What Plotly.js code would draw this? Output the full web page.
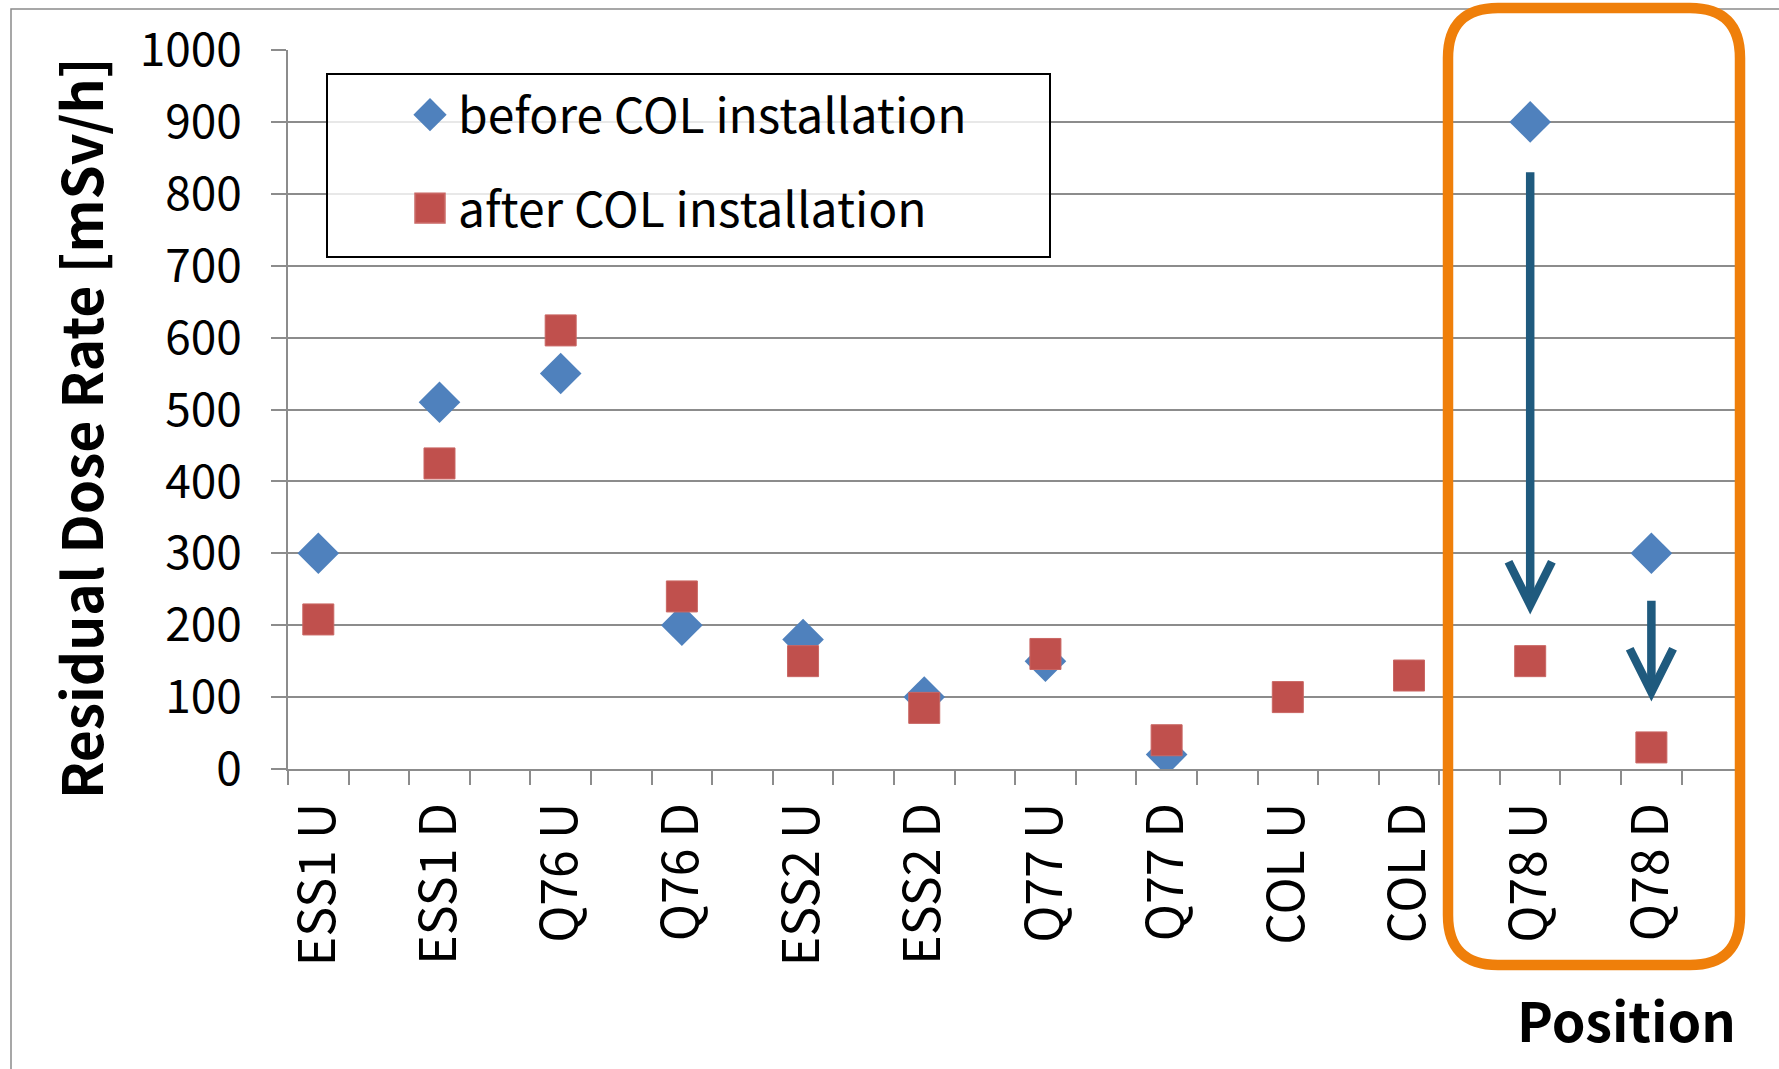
<!DOCTYPE html>
<html><head><meta charset="utf-8">
<script src="https://cdn.plot.ly/plotly-3.0.1.min.js"></script>
<style>html,body{margin:0;padding:0;background:#fff;} #chart{width:1779px;height:1069px;}</style>
</head><body><div id="chart"></div>
<script>
// ---- data ----
const categories = ["ESS1 U","ESS1 D","Q76 U","Q76 D","ESS2 U","ESS2 D","Q77 U","Q77 D","COL U","COL D","Q78 U","Q78 D"];
const beforeCOL = [300, 510, 550, 200, 180, 100, 150, 20, null, null, 900, 300];
const afterCOL  = [208, 425, 610, 240, 150, 85, 160, 40, 100, 130, 150, 30];
const seriesNames = ["before COL installation", "after COL installation"];
const yTickVals = [0,100,200,300,400,500,600,700,800,900,1000];
const arrowCategories = ["Q78 U", "Q78 D"];
const arrowFrom = [832, 236];
const arrowTo = [215, 94];
const yTitle = "Residual Dose Rate [mSv/h]";
const xTitle = "Position";

// ---- layout geometry ----
const W = 1779, H = 1069;
const M = {l: 288, r: 44, t: 50, b: 300};
const PW = W - M.l - M.r, PH = H - M.t - M.b;
const px2x = p => (p - M.l) / PW;
const py2y = p => (H - M.b - p) / PH;
const FONT = "'Noto Sans CJK JP', 'Noto Sans', sans-serif";
const GRID = '#8c8c8c';
const BLUE = '#4F81BD', RED = '#C0504D', ORANGE = '#EF7F0A', ARROW = '#1F5A7E';

const xPos = categories.map((c, i) => i + 1);
const minorTicks = [];
xPos.forEach(v => { minorTicks.push(v - 0.25); minorTicks.push(v + 0.25); });
const uniqMinor = [...new Set(minorTicks.map(v => +v.toFixed(2)))];

const traces = [
  {x: xPos, y: beforeCOL, name: seriesNames[0], type: 'scatter', mode: 'markers', legendgroup: 'a',
   marker: {symbol: 'diamond', size: 32, color: BLUE}},
  {x: xPos, y: afterCOL, name: seriesNames[1], type: 'scatter', mode: 'markers', legendgroup: 'b',
   marker: {symbol: 'square', size: 31, color: RED, line: {width: 1, color: '#C96663'}}}
];

// rounded orange frame (paper coords)
const oL = 1448, oR = 1740, oT = 8, oB = 965, rad = 50;
const X = px2x, Y = py2y;
const orangePath =
  `M ${X(oL+rad)},${Y(oT)} H ${X(oR-rad)} Q ${X(oR)},${Y(oT)} ${X(oR)},${Y(oT+rad)} ` +
  `V ${Y(oB-rad)} Q ${X(oR)},${Y(oB)} ${X(oR-rad)},${Y(oB)} H ${X(oL+rad)} ` +
  `Q ${X(oL)},${Y(oB)} ${X(oL)},${Y(oB-rad)} V ${Y(oT+rad)} Q ${X(oL)},${Y(oT)} ${X(oL+rad)},${Y(oT)} Z`;

const shapes = [
  {type: 'rect', xref: 'paper', yref: 'paper', x0: X(11), x1: X(1850), y0: Y(9), y1: Y(1150),
   line: {color: '#8a8a8a', width: 1.5}, layer: 'above'},
  {type: 'rect', xref: 'paper', yref: 'paper', x0: X(327), x1: X(1050), y0: Y(74), y1: Y(257),
   line: {color: '#000', width: 2}, fillcolor: 'rgba(255,255,255,0.8)', layer: 'above'},
  {type: 'path', xref: 'paper', yref: 'paper', path: orangePath,
   line: {color: ORANGE, width: 10.5}, layer: 'above'}
];

const annotations = [
  {xref: 'paper', yref: 'paper', x: X(1738), y: Y(1018), xanchor: 'right', yanchor: 'middle',
   text: xTitle, showarrow: false, font: {family: FONT, size: 54, color: '#000', weight: 'bold'}},
  {xref: 'paper', yref: 'paper', x: X(79), y: Y(428), xanchor: 'center', yanchor: 'middle', textangle: -90,
   text: yTitle, showarrow: false, font: {family: FONT, size: 55, color: '#000', weight: 'bold'}}
];
arrowCategories.forEach((c, i) => {
  const xv = categories.indexOf(c) + 1;
  annotations.push({xref: 'x', yref: 'y', axref: 'x', ayref: 'y', x: xv, y: arrowTo[i], ax: xv, ay: arrowFrom[i],
    text: '', showarrow: true, arrowhead: 5, arrowsize: 1, arrowwidth: 8.5, arrowcolor: ARROW, standoff: 0});
});

const layout = {
  width: W, height: H, margin: M,
  paper_bgcolor: '#fff', plot_bgcolor: '#fff',
  font: {family: FONT, color: '#000'},
  showlegend: true,
  legend: {x: X(327), y: Y(77), xanchor: 'left', yanchor: 'top', bgcolor: 'rgba(0,0,0,0)', borderwidth: 0,
    font: {family: FONT, size: 48, color: '#000'}, indentation: 75, itemwidth: 46, tracegroupgap: 28, traceorder: 'grouped'},
  xaxis: {range: [0.75, 12.69], tickmode: 'array', tickvals: xPos, ticktext: categories, tickangle: -90,
    ticks: '', showgrid: false, zeroline: false, showline: true, linecolor: GRID, linewidth: 2,
    tickfont: {family: FONT, size: 50, color: '#000'}, ticklabelstandoff: 12, automargin: false,
    minor: {tickmode: 'array', tickvals: uniqMinor, ticks: 'outside', ticklen: 14, tickwidth: 2, tickcolor: GRID, showgrid: false}},
  yaxis: {range: [0, 1000], tickmode: 'array', tickvals: yTickVals, showgrid: true, gridcolor: GRID, gridwidth: 2,
    zeroline: false, showline: true, linecolor: GRID, linewidth: 2, ticks: 'outside', ticklen: 15, tickwidth: 2, tickcolor: GRID,
    tickfont: {family: FONT, size: 46, color: '#000'}, ticklabelstandoff: 20, automargin: false},
  shapes: shapes, annotations: annotations
};

Plotly.newPlot('chart', traces, layout, {displayModeBar: false, staticPlot: true}).then(() => {
  const legendScale = [1.6, 1.85];
  document.querySelectorAll('.legend .traces').forEach((g, i) => {
    g.querySelectorAll('path.scatterpts').forEach(p => {
      const t = p.getAttribute('transform') || '';
      p.setAttribute('transform', t + ' scale(' + legendScale[i] + ')');
    });
  });
});
</script>
</body></html>
